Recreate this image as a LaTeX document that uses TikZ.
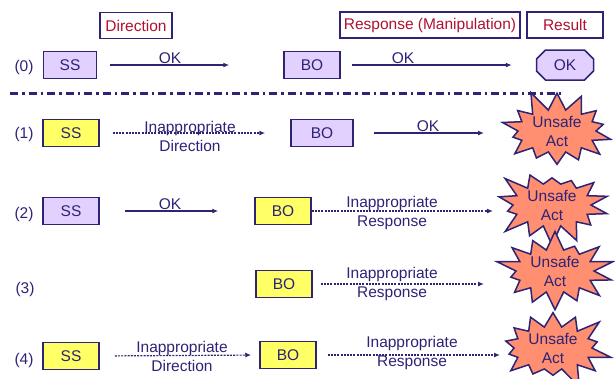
\documentclass[tikz,border=0pt]{standalone}
\usepackage{fontspec}
\setmainfont{Liberation Sans}
\usepackage{xcolor}
\usepackage{tikz}
\usetikzlibrary{shapes.symbols,shapes.misc,arrows.meta}

\definecolor{ink}{HTML}{2E2375}
\definecolor{lilac}{HTML}{E2D0FF}
\definecolor{lemon}{HTML}{FFFF66}
\definecolor{headred}{HTML}{B01030}
\definecolor{salmon}{HTML}{FF8F70}

\tikzset{
  every node/.style={font=\fontsize{15.5}{19}\selectfont, text=ink},
  headbox/.style={draw=ink, line width=1.3pt, text=headred, minimum height=26pt, inner sep=0pt},
  okbox/.style={draw=ink, line width=1.5pt, fill=lilac, minimum height=27pt, minimum width=56pt, inner sep=0pt},
  badbox/.style={okbox, fill=lemon},
  resultok/.style={chamfered rectangle, chamfered rectangle xsep=8pt, draw=ink, line width=1.5pt, fill=lilac, minimum width=57pt, minimum height=30pt, inner sep=0pt},
  unsafe/.style={starburst, starburst points=14, starburst point height=22pt, random starburst=#1, draw=ink, line width=1.5pt, fill=salmon, align=center, minimum width=122pt, minimum height=82pt, inner sep=0pt},
  twoline/.style={align=center},
  okarrow/.style={draw=ink, line width=1.2pt, -{Latex[length=6pt,width=5pt]}},
  badarrow/.style={okarrow, line width=1.2pt, dash pattern=on 2pt off 1.2pt},
  sepline/.style={draw=ink, line width=3pt, dash pattern=on 8pt off 4pt on 2.5pt off 4pt},
}

\begin{document}
\begin{tikzpicture}[x=1pt, y=-1pt]
\useasboundingbox (0,0) rectangle (615,378);

\node[headbox, minimum width=72pt] (hdir) at (136,25.5) {Direction};
\node[headbox, minimum width=180pt] (hresp) at (430,25) {Response (Manipulation)};
\node[headbox, minimum width=76pt] (hres) at (565,25) {Result};

\node (row0) at (24,67) {(0)};
\node[okbox, minimum width=53pt] (ss0) at (70,65) {SS};
\node[okbox] (bo0) at (312,65) {BO};
\node[resultok] (res0) at (565,65) {OK};
\node (ok0a) at (170,58) {OK};
\node (ok0b) at (403,58) {OK};
\draw[okarrow, shorten <=13pt, shorten >=54pt] (ss0.east) -- (bo0.west);
\draw[okarrow, shorten <=11pt, shorten >=24pt] (bo0.east) -- (res0.west);

\draw[sepline] (10,93) -- (562,93);

\node (row1) at (24,134) {(1)};
\node[badbox] (ss1) at (71,133) {SS};
\node[okbox, minimum width=62pt] (bo1) at (322,133) {BO};
\node[unsafe=11] (un1) at (557,131) {Unsafe\\Act};
\coordinate (tip1) at (484,133);
\node[twoline] (lbl1a) at (190,136.5) {Inappropriate\\Direction};
\node (ok1) at (428,126) {OK};
\draw[badarrow, shorten <=13pt, shorten >=25pt] (ss1.east) -- (bo1.west);
\draw[okarrow, shorten <=20pt] (bo1.east) -- (tip1);

\node (row2) at (24,214) {(2)};
\node[okbox] (ss2) at (71,211) {SS};
\node[badbox] (bo2) at (283,211) {BO};
\node[unsafe=23] (un2) at (552,205) {Unsafe\\Act};
\coordinate (tip2) at (493,211);
\node (ok2) at (170,204) {OK};
\node[twoline] (lbl2b) at (392,212.5) {Inappropriate\\Response};
\draw[okarrow, shorten <=25pt, shorten >=36pt] (ss2.east) -- (bo2.west);
\draw[badarrow] (bo2.east) -- (tip2);

\node (row3) at (25,289) {(3)};
\node[badbox] (bo3) at (284,284) {BO};
\node[unsafe=37] (un3) at (555,271) {Unsafe\\Act};
\coordinate (tip3) at (484,284);
\node[twoline] (lbl3b) at (392,284) {Inappropriate\\Response};
\draw[badarrow, shorten <=8pt] (bo3.east) -- (tip3);

\node (row4) at (24,360) {(4)};
\node[badbox] (ss4) at (71,356) {SS};
\node[badbox] (bo4) at (288,355) {BO};
\node[unsafe=51] (un4) at (553,348) {Unsafe\\Act};
\coordinate (tip4) at (500,355);
\node[twoline] (lbl4a) at (182,356.5) {Inappropriate\\Direction};
\node[twoline] (lbl4b) at (412,352.5) {Inappropriate\\Response};
\draw[badarrow, shorten <=15pt, shorten >=8pt] (ss4.east) -- (bo4.west);
\draw[badarrow, shorten <=11pt] (bo4.east) -- (tip4);
\end{tikzpicture}
\end{document}
